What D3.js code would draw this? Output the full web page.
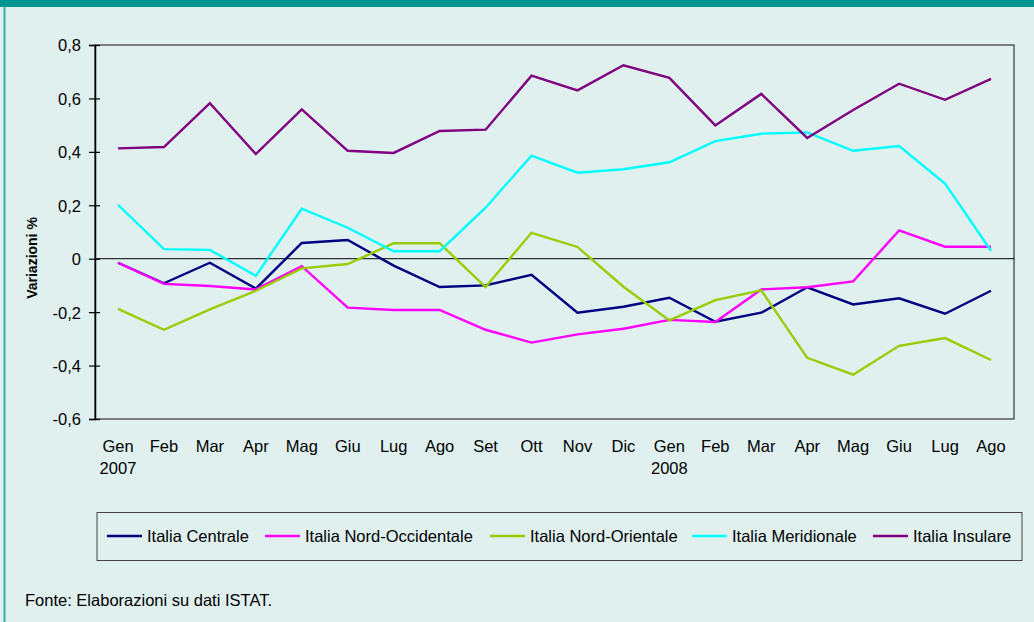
<!DOCTYPE html>
<html><head><meta charset="utf-8">
<script src="https://cdn.jsdelivr.net/npm/d3@7"></script>
<style>
html,body{margin:0;padding:0;background:#dff0ef;}
svg{display:block;font-family:Arial,"Liberation Sans",sans-serif;}
</style></head>
<body>
<svg id="chart" width="1034" height="622"></svg>
<script>
const months = ["Gen","Feb","Mar","Apr","Mag","Giu","Lug","Ago","Set","Ott","Nov","Dic","Gen","Feb","Mar","Apr","Mag","Giu","Lug","Ago"];
const years = ["2007","","","","","","","","","","","","2008","","","","","","",""];
const yTicks = [-0.6,-0.4,-0.2,0,0.2,0.4,0.6,0.8];

const centrale = [-0.015,-0.092,-0.015,-0.112,0.059,0.070,-0.026,-0.106,-0.100,-0.060,-0.202,-0.180,-0.146,-0.236,-0.202,-0.107,-0.171,-0.148,-0.206,-0.120];
const nordOcc = [-0.015,-0.094,-0.102,-0.115,-0.028,-0.183,-0.192,-0.192,-0.266,-0.314,-0.283,-0.262,-0.229,-0.237,-0.115,-0.107,-0.085,0.106,0.045,0.045];
const nordOr = [-0.188,-0.266,-0.190,-0.120,-0.036,-0.020,0.058,0.058,-0.106,0.097,0.044,-0.105,-0.231,-0.155,-0.118,-0.371,-0.434,-0.326,-0.297,-0.379];
const meridionale = [0.202,0.036,0.033,-0.064,0.187,0.116,0.028,0.028,0.191,0.386,0.322,0.335,0.361,0.440,0.468,0.473,0.404,0.422,0.281,0.030];
const insulare = [0.413,0.418,0.582,0.392,0.559,0.404,0.396,0.478,0.483,0.685,0.630,0.724,0.677,0.499,0.617,0.452,0.557,0.655,0.595,0.673];

const seriesNames = ["Italia Centrale","Italia Nord-Occidentale","Italia Nord-Orientale","Italia Meridionale","Italia Insulare"];
const seriesColors = ["#000080","#ff00ff","#99cc00","#00ffff","#800080"];
const seriesData = [centrale, nordOcc, nordOr, meridionale, insulare];

const FONT = "Arial, 'Liberation Sans', sans-serif";
const svg = d3.select("#chart");
// frame
svg.append("rect").attr("x",0).attr("y",0).attr("width",1034).attr("height",622).attr("fill","#dff0ef");
svg.append("rect").attr("x",0).attr("y",0).attr("width",1034).attr("height",7).attr("fill","#009690");
svg.append("rect").attr("x",3.5).attr("y",7).attr("width",2).attr("height",615).attr("fill","#3aaea8");

const L=95, T=45, R=1014, B=419;
const x = d3.scaleBand().domain(d3.range(months.length)).range([L,R]);
const y = d3.scaleLinear().domain([-0.6,0.8]).range([B,T]);

// plot border
svg.append("rect").attr("x",L).attr("y",T).attr("width",R-L).attr("height",B-T)
  .attr("fill","none").attr("stroke","#444").attr("stroke-width",1.3);

// y axis
const yAxis = d3.axisLeft(y).tickValues(yTicks).tickSize(6).tickPadding(8)
  .tickFormat(d => d===0 ? "0" : d.toFixed(1).replace(".",","));
const gy = svg.append("g").attr("transform",`translate(${L},0)`).call(yAxis);
gy.attr("font-family",FONT).attr("font-size",16.5);
gy.select(".domain").attr("stroke","#000").attr("stroke-width",1.5);
gy.selectAll(".tick line").attr("stroke","#000").attr("stroke-width",1.2).attr("x1",5).attr("x2",-6);
gy.selectAll(".tick text").attr("fill","#000").attr("x",-14).attr("dy","0.36em");

// zero line
svg.append("line").attr("x1",L).attr("x2",R).attr("y1",y(0)).attr("y2",y(0)).attr("stroke","#000").attr("stroke-width",1);

// y title
svg.append("text").attr("transform",`translate(37,258) rotate(-90)`)
  .attr("text-anchor","middle").attr("font-size",14).attr("font-weight","bold").text("Variazioni %");

// x labels
const xl = svg.append("g").attr("font-size",16.5);
months.forEach((m,i)=>{
  xl.append("text").attr("x",x(i)+x.bandwidth()/2).attr("y",452).attr("text-anchor","middle").text(m);
  if (years[i]) xl.append("text").attr("x",x(i)+x.bandwidth()/2).attr("y",474).attr("text-anchor","middle").text(years[i]);
});

// lines
const line = d3.line().x((d,i)=>x(i)+x.bandwidth()/2).y(d=>y(d));
seriesData.forEach((s,k)=>{
  svg.append("path").datum(s).attr("d",line).attr("fill","none")
    .attr("stroke",seriesColors[k]).attr("stroke-width",2.4).attr("stroke-linejoin","miter");
});

// legend
svg.append("rect").attr("x",97).attr("y",512.5).attr("width",925).attr("height",48)
  .attr("fill","none").attr("stroke","#444").attr("stroke-width",1);
const legX = [107,265,490,692,873];
seriesNames.forEach((n,k)=>{
  svg.append("line").attr("x1",legX[k]).attr("x2",legX[k]+35).attr("y1",536).attr("y2",536)
    .attr("stroke",seriesColors[k]).attr("stroke-width",2.6);
  svg.append("text").attr("x",legX[k]+40).attr("y",542).attr("font-size",16.5).text(n);
});

// footer
svg.append("text").attr("x",25).attr("y",606).attr("font-size",16.5).text("Fonte: Elaborazioni su dati ISTAT.");
</script>
</body></html>
